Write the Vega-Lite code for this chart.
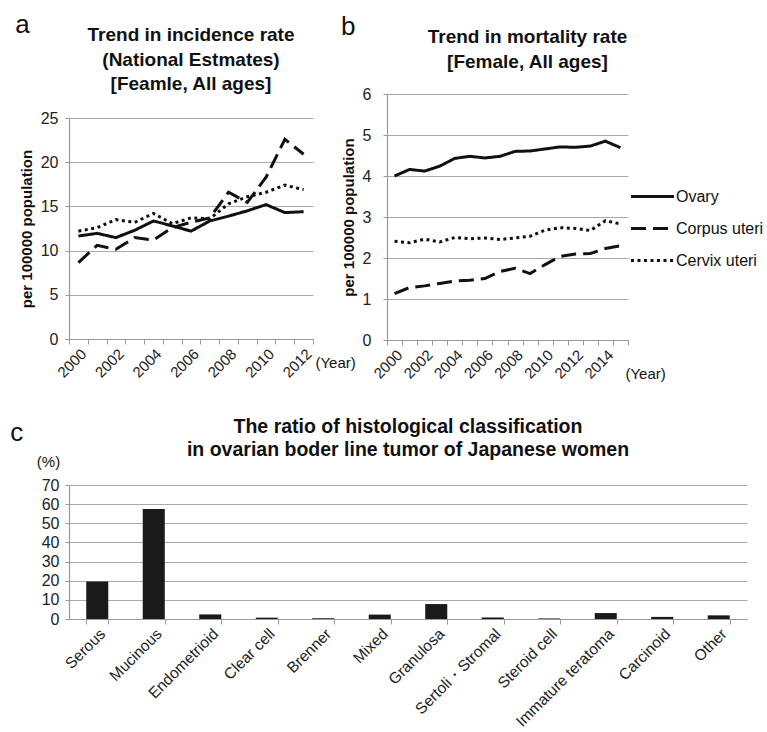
{
  "$schema": "https://vega.github.io/schema/vega-lite/v6.json",
  "background": "white",
  "padding": {"left": 10, "top": 11, "right": 0, "bottom": 0},
  "config": {
    "font": "Liberation Sans",
    "view": {"stroke": null},
    "axis": {"labelColor": "#222", "titleColor": "#111", "domainColor": "#999", "tickColor": "#999", "gridColor": "#aaa", "gridWidth": 1.2, "domainWidth": 1.2, "labelFont": "Liberation Sans", "titleFont": "Liberation Sans"},
    "title": {"color": "#111", "font": "Liberation Sans"}
  },
  "datasets": {
    "incidence": [
      {"year": 2000, "site": "Ovary", "rate": 11.65}, {"year": 2001, "site": "Ovary", "rate": 11.95}, {"year": 2002, "site": "Ovary", "rate": 11.47}, {"year": 2003, "site": "Ovary", "rate": 12.3}, {"year": 2004, "site": "Ovary", "rate": 13.35}, {"year": 2005, "site": "Ovary", "rate": 12.8}, {"year": 2006, "site": "Ovary", "rate": 12.2}, {"year": 2007, "site": "Ovary", "rate": 13.35}, {"year": 2008, "site": "Ovary", "rate": 13.9}, {"year": 2009, "site": "Ovary", "rate": 14.5}, {"year": 2010, "site": "Ovary", "rate": 15.2}, {"year": 2011, "site": "Ovary", "rate": 14.3}, {"year": 2012, "site": "Ovary", "rate": 14.4},
      {"year": 2000, "site": "Corpus uteri", "rate": 8.65}, {"year": 2001, "site": "Corpus uteri", "rate": 10.6}, {"year": 2002, "site": "Corpus uteri", "rate": 10.15}, {"year": 2003, "site": "Corpus uteri", "rate": 11.47}, {"year": 2004, "site": "Corpus uteri", "rate": 11.2}, {"year": 2005, "site": "Corpus uteri", "rate": 12.6}, {"year": 2006, "site": "Corpus uteri", "rate": 13.2}, {"year": 2007, "site": "Corpus uteri", "rate": 13.7}, {"year": 2008, "site": "Corpus uteri", "rate": 16.6}, {"year": 2009, "site": "Corpus uteri", "rate": 15.45}, {"year": 2010, "site": "Corpus uteri", "rate": 18.3}, {"year": 2011, "site": "Corpus uteri", "rate": 22.6}, {"year": 2012, "site": "Corpus uteri", "rate": 20.9},
      {"year": 2000, "site": "Cervix uteri", "rate": 12.2}, {"year": 2001, "site": "Cervix uteri", "rate": 12.6}, {"year": 2002, "site": "Cervix uteri", "rate": 13.5}, {"year": 2003, "site": "Cervix uteri", "rate": 13.2}, {"year": 2004, "site": "Cervix uteri", "rate": 14.2}, {"year": 2005, "site": "Cervix uteri", "rate": 13.05}, {"year": 2006, "site": "Cervix uteri", "rate": 13.7}, {"year": 2007, "site": "Cervix uteri", "rate": 13.6}, {"year": 2008, "site": "Cervix uteri", "rate": 15.3}, {"year": 2009, "site": "Cervix uteri", "rate": 16.1}, {"year": 2010, "site": "Cervix uteri", "rate": 16.6}, {"year": 2011, "site": "Cervix uteri", "rate": 17.4}, {"year": 2012, "site": "Cervix uteri", "rate": 16.9}
    ],
    "mortality": [
      {"year": 2000, "site": "Ovary", "rate": 4.0}, {"year": 2001, "site": "Ovary", "rate": 4.16}, {"year": 2002, "site": "Ovary", "rate": 4.12}, {"year": 2003, "site": "Ovary", "rate": 4.24}, {"year": 2004, "site": "Ovary", "rate": 4.43}, {"year": 2005, "site": "Ovary", "rate": 4.48}, {"year": 2006, "site": "Ovary", "rate": 4.44}, {"year": 2007, "site": "Ovary", "rate": 4.48}, {"year": 2008, "site": "Ovary", "rate": 4.6}, {"year": 2009, "site": "Ovary", "rate": 4.61}, {"year": 2010, "site": "Ovary", "rate": 4.66}, {"year": 2011, "site": "Ovary", "rate": 4.71}, {"year": 2012, "site": "Ovary", "rate": 4.7}, {"year": 2013, "site": "Ovary", "rate": 4.73}, {"year": 2014, "site": "Ovary", "rate": 4.85}, {"year": 2015, "site": "Ovary", "rate": 4.69},
      {"year": 2000, "site": "Corpus uteri", "rate": 1.13}, {"year": 2001, "site": "Corpus uteri", "rate": 1.28}, {"year": 2002, "site": "Corpus uteri", "rate": 1.32}, {"year": 2003, "site": "Corpus uteri", "rate": 1.38}, {"year": 2004, "site": "Corpus uteri", "rate": 1.44}, {"year": 2005, "site": "Corpus uteri", "rate": 1.46}, {"year": 2006, "site": "Corpus uteri", "rate": 1.5}, {"year": 2007, "site": "Corpus uteri", "rate": 1.67}, {"year": 2008, "site": "Corpus uteri", "rate": 1.75}, {"year": 2009, "site": "Corpus uteri", "rate": 1.62}, {"year": 2010, "site": "Corpus uteri", "rate": 1.84}, {"year": 2011, "site": "Corpus uteri", "rate": 2.04}, {"year": 2012, "site": "Corpus uteri", "rate": 2.1}, {"year": 2013, "site": "Corpus uteri", "rate": 2.11}, {"year": 2014, "site": "Corpus uteri", "rate": 2.23}, {"year": 2015, "site": "Corpus uteri", "rate": 2.3},
      {"year": 2000, "site": "Cervix uteri", "rate": 2.41}, {"year": 2001, "site": "Cervix uteri", "rate": 2.37}, {"year": 2002, "site": "Cervix uteri", "rate": 2.46}, {"year": 2003, "site": "Cervix uteri", "rate": 2.39}, {"year": 2004, "site": "Cervix uteri", "rate": 2.5}, {"year": 2005, "site": "Cervix uteri", "rate": 2.47}, {"year": 2006, "site": "Cervix uteri", "rate": 2.49}, {"year": 2007, "site": "Cervix uteri", "rate": 2.45}, {"year": 2008, "site": "Cervix uteri", "rate": 2.49}, {"year": 2009, "site": "Cervix uteri", "rate": 2.53}, {"year": 2010, "site": "Cervix uteri", "rate": 2.68}, {"year": 2011, "site": "Cervix uteri", "rate": 2.74}, {"year": 2012, "site": "Cervix uteri", "rate": 2.72}, {"year": 2013, "site": "Cervix uteri", "rate": 2.67}, {"year": 2014, "site": "Cervix uteri", "rate": 2.91}, {"year": 2015, "site": "Cervix uteri", "rate": 2.83}
    ],
    "histology": [
      {"type": "Serous", "pct": 19.6}, {"type": "Mucinous", "pct": 57.5}, {"type": "Endometrioid", "pct": 2.4}, {"type": "Clear cell", "pct": 0.7}, {"type": "Brenner", "pct": 0.4}, {"type": "Mixed", "pct": 2.3}, {"type": "Granulosa", "pct": 7.8}, {"type": "Sertoli・Stromal", "pct": 0.8}, {"type": "Steroid cell", "pct": 0.3}, {"type": "Immature teratoma", "pct": 3.1}, {"type": "Carcinoid", "pct": 1.1}, {"type": "Other", "pct": 1.9}
    ]
  },
  "resolve": {"scale": {"strokeDash": "independent"}, "legend": {"strokeDash": "independent"}},
  "spacing": 34,
  "vconcat": [
    {
      "columns": 2,
      "align": "none",
      "spacing": -15,
      "resolve": {"scale": {"strokeDash": "independent"}, "legend": {"strokeDash": "independent"}},
      "concat": [
        {
          "title": {"text": "a", "anchor": "start", "fontSize": 26, "fontWeight": "normal", "offset": -11.5, "dx": -4},
          "spacing": -69,
          "vconcat": [
            {"width": 1, "height": 1, "data": {"values": []}, "mark": "point"},
            {
              "width": 244, "height": 221,
              "title": {"text": ["Trend in incidence rate", "(National Estmates)", "[Feamle, All ages]"], "fontSize": 19, "fontWeight": "bold", "lineHeight": 24.5, "anchor": "middle", "frame": "group", "offset": 16},
              "data": {"name": "incidence"},
              "mark": {"type": "line", "strokeWidth": 3, "color": "#111", "strokeCap": "butt"},
              "encoding": {
                "x": {"field": "year", "type": "ordinal", "bandPosition": 0.5,
                  "scale": {"type": "band", "paddingInner": 0, "paddingOuter": 0},
                  "axis": {"title": "(Year)", "titleAnchor": "start", "titleX": 246, "titleY": 23, "titleAlign": "left", "titleBaseline": "middle", "titleFontWeight": "normal", "titleFontSize": 15, "labelAngle": -45, "labelFontSize": 15, "labelExpr": "datum.value % 2 == 0 ? datum.label : ''", "tickBand": "extent", "tickSize": 5, "grid": false}},
                "y": {"field": "rate", "type": "quantitative", "scale": {"domain": [0, 25]},
                  "axis": {"values": [0, 5, 10, 15, 20, 25], "title": "per 100000 population", "titleFontSize": 15, "titleFontWeight": "bold", "titlePadding": 6, "labelFontSize": 16, "labelPadding": 7, "tickSize": 4}},
                "strokeDash": {"field": "site", "type": "nominal", "legend": null,
                  "scale": {"domain": ["Ovary", "Corpus uteri", "Cervix uteri"], "range": [[1, 0], [15, 7], [3, 3.5]]}}
              }
            }
          ]
        },
        {
          "title": {"text": "b", "anchor": "start", "fontSize": 26, "fontWeight": "normal", "offset": -12, "dx": 0},
          "vconcat": [
            {
              "width": 241, "height": 246,
              "title": {"text": ["Trend in mortality rate", "[Female, All ages]"], "fontSize": 19, "fontWeight": "bold", "lineHeight": 25, "anchor": "middle", "frame": "group", "offset": 14, "dx": 20},
              "data": {"name": "mortality"},
              "mark": {"type": "line", "strokeWidth": 3, "color": "#111", "strokeCap": "butt"},
              "encoding": {
                "x": {"field": "year", "type": "ordinal", "bandPosition": 0.5,
                  "scale": {"type": "band", "paddingInner": 0, "paddingOuter": 0},
                  "axis": {"title": "(Year)", "titleAnchor": "start", "titleX": 238, "titleY": 33, "titleAlign": "left", "titleBaseline": "middle", "titleFontWeight": "normal", "titleFontSize": 15, "labelAngle": -45, "labelFontSize": 15, "labelExpr": "datum.value % 2 == 0 ? datum.label : ''", "tickBand": "extent", "tickSize": 5, "grid": false}},
                "y": {"field": "rate", "type": "quantitative", "scale": {"domain": [0, 6]},
                  "axis": {"values": [0, 1, 2, 3, 4, 5, 6], "title": "per 100000 population", "titleFontSize": 15, "titleFontWeight": "bold", "titlePadding": 6, "labelFontSize": 16, "labelPadding": 12, "tickSize": 4}},
                "strokeDash": {"field": "site", "type": "nominal",
                  "scale": {"domain": ["Ovary", "Corpus uteri", "Cervix uteri"], "range": [[1, 0], [15, 7], [3, 3.5]]},
                  "legend": {"orient": "none", "legendX": 242, "legendY": 79, "title": null, "symbolType": "stroke", "symbolSize": 1850, "symbolStrokeWidth": 3, "symbolStrokeColor": "#111", "labelFontSize": 16, "labelColor": "#111", "labelOffset": 0, "rowPadding": -11, "labelLimit": 0}}
              }
            }
          ]
        }
      ]
    },
    {
      "title": {"text": "c", "anchor": "start", "fontSize": 26, "fontWeight": "normal", "offset": -29, "dx": -26},
      "vconcat": [
        {
          "width": 678, "height": 134,
          "title": {"text": ["The ratio of histological classification", "in ovarian boder line tumor of Japanese women"], "fontSize": 19.5, "fontWeight": "bold", "lineHeight": 23, "anchor": "middle", "frame": "group", "offset": -6},
          "data": {"name": "histology"},
          "mark": {"type": "bar", "color": "#1a1a1a"},
          "encoding": {
            "x": {"field": "type", "type": "nominal", "sort": null,
              "scale": {"paddingInner": 0.61, "paddingOuter": 0.305},
              "axis": {"title": null, "labelAngle": -45, "labelFontSize": 15.5, "tickBand": "extent", "tickSize": 5, "grid": false}},
            "y": {"field": "pct", "type": "quantitative", "scale": {"domain": [0, 70]},
              "axis": {"values": [0, 10, 20, 30, 40, 50, 60, 70], "title": "(%)", "titleAngle": 0, "titleX": -21, "titleY": -24, "titleAlign": "center", "titleBaseline": "middle", "titleFontWeight": "normal", "titleFontSize": 15, "labelFontSize": 16, "labelPadding": 6, "tickSize": 4}}
          }
        }
      ]
    }
  ]
}
